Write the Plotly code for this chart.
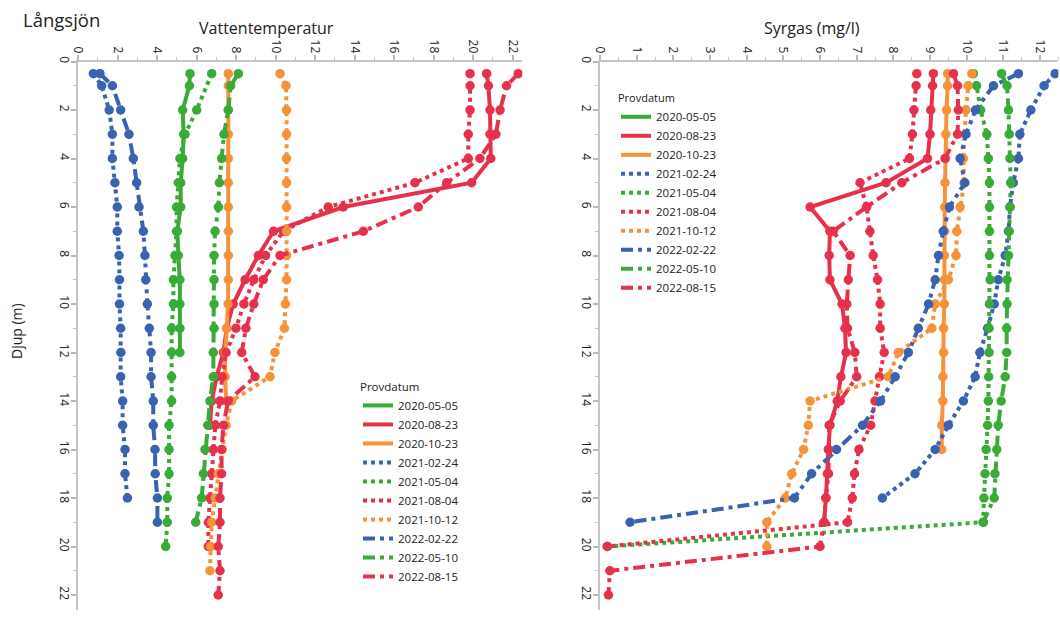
import plotly.graph_objects as go

# ---------------- data ----------------
dates = ["2020-05-05", "2020-08-23", "2020-10-23", "2021-02-24", "2021-05-04",
         "2021-08-04", "2021-10-12", "2022-02-22", "2022-05-10", "2022-08-15"]

GREEN = "#3aaa38"
RED = "#e5324a"
ORANGE = "#f5923a"
BLUE = "#3a62b0"
colors = [GREEN, RED, ORANGE, BLUE, GREEN, RED, ORANGE, BLUE, GREEN, RED]
dashes = ["solid", "solid", "solid", "dot", "dot", "dot", "dot",
          "12px,5px,4px,5px", "12px,5px,4px,5px", "12px,5px,4px,5px"]

# Water temperature (°C) by depth (m)
temp_depth = {
    "2020-05-05": [0.5, 1, 2, 3, 4, 5, 6, 7, 8, 9, 10, 11, 12],
    "2020-08-23": [0.5, 1, 2, 3, 4, 5, 6, 7, 8, 9, 10, 11, 12, 13, 14, 15],
    "2020-10-23": [0.5, 1, 2, 3, 4, 5, 6, 7, 8, 9, 10, 11, 12, 13, 14],
    "2021-02-24": [0.5, 1, 2, 3, 4, 5, 6, 7, 8, 9, 10, 11, 12, 13, 14, 15, 16, 17, 18],
    "2021-05-04": [0.5, 2, 3, 4, 5, 6, 7, 8, 9, 10, 11, 12, 13, 14, 15, 16, 17, 18, 19, 20],
    "2021-08-04": [0.5, 1, 2, 3, 4, 5, 6, 7, 8, 9, 10, 11, 12, 13, 14, 15, 16, 17, 18, 19, 20],
    "2021-10-12": [0.5, 1, 2, 3, 4, 5, 6, 7, 8, 9, 10, 11, 12, 13, 14, 15, 16, 17, 18, 19, 20, 21],
    "2022-02-22": [0.5, 1, 2, 3, 4, 5, 6, 7, 8, 9, 10, 11, 12, 13, 14, 15, 16, 17, 18, 19],
    "2022-05-10": [0.5, 1, 2, 3, 4, 5, 6, 7, 8, 9, 10, 11, 12, 13, 14, 15, 16, 17, 18, 19],
    "2022-08-15": [0.5, 1, 2, 3, 4, 5, 6, 7, 8, 9, 10, 11, 12, 13, 14, 15, 16, 17, 18, 19, 20, 21, 22],
}
temp_vals = {
    "2020-05-05": [5.67, 5.64, 5.30, 5.35, 5.30, 5.20, 5.20, 5.03, 5.08, 5.16, 5.16, 5.16, 5.16],
    "2020-08-23": [20.69, 20.78, 20.86, 20.86, 20.90, 19.93, 13.43, 9.90, 9.13, 8.46, 7.86, 7.53, 7.36, 7.02, 6.77, 6.68],
    "2020-10-23": [7.61, 7.61, 7.61, 7.61, 7.61, 7.61, 7.61, 7.61, 7.61, 7.61, 7.60, 7.53, 7.45, 7.45, 7.50],
    "2021-02-24": [0.78, 1.20, 1.58, 1.74, 1.74, 1.87, 1.99, 1.99, 2.08, 2.10, 2.10, 2.16, 2.17, 2.16, 2.26, 2.26, 2.38, 2.38, 2.50],
    "2021-05-04": [6.77, 6.01, 5.42, 5.16, 5.08, 4.99, 4.99, 4.91, 4.83, 4.83, 4.74, 4.74, 4.74, 4.74, 4.61, 4.61, 4.61, 4.52, 4.52, 4.44],
    "2021-08-04": [19.85, 19.85, 19.85, 19.76, 19.76, 17.06, 12.67, 10.40, 9.50, 8.90, 8.40, 8.00, 7.50, 7.30, 7.19, 6.95, 6.85, 6.77, 6.68, 6.60, 6.60],
    "2021-10-12": [10.23, 10.53, 10.56, 10.56, 10.56, 10.56, 10.56, 10.56, 10.56, 10.56, 10.50, 10.45, 9.97, 9.72, 7.78, 7.50, 7.30, 7.10, 6.95, 6.77, 6.72, 6.68],
    "2022-02-22": [1.11, 1.74, 2.16, 2.58, 2.80, 2.97, 3.09, 3.31, 3.39, 3.43, 3.51, 3.61, 3.70, 3.70, 3.81, 3.81, 3.90, 3.91, 4.02, 4.02],
    "2022-05-10": [8.12, 7.73, 7.61, 7.39, 7.27, 7.16, 7.11, 6.94, 6.89, 6.89, 6.89, 6.89, 6.85, 6.85, 6.68, 6.57, 6.43, 6.35, 6.26, 5.96],
    "2022-08-15": [22.29, 21.70, 21.37, 21.16, 20.35, 18.67, 17.23, 14.45, 10.23, 9.38, 8.90, 8.50, 8.29, 8.96, 7.60, 7.36, 7.27, 7.27, 7.19, 7.19, 7.10, 7.19, 7.10],
}

# Dissolved oxygen (mg/l) by depth (m)
oxy_depth = {
    "2020-05-05": [],
    "2020-08-23": [0.5, 1, 2, 3, 4, 5, 6, 7, 8, 9, 10, 11, 12, 13, 14, 15, 16, 17, 18, 19],
    "2020-10-23": [0.5, 1, 2, 3, 4, 5, 6, 7, 8, 9, 10, 11, 12, 13, 14, 15, 16],
    "2021-02-24": [0.5, 1, 2, 3, 4, 5, 6, 7, 8, 9, 10, 11, 12, 13, 14, 15, 16, 17, 18],
    "2021-05-04": [0.5, 1, 2, 3, 4, 5, 6, 7, 8, 9, 10, 11, 12, 13, 14, 15, 16, 17, 18, 19, 20],
    "2021-08-04": [0.5, 1, 2, 3, 4, 5, 6, 7, 8, 9, 10, 11, 12, 13, 14, 15, 16, 17, 18, 19, 20],
    "2021-10-12": [0.5, 1, 2, 3, 4, 5, 6, 7, 8, 9, 10, 11, 12, 13, 14, 15, 16, 17, 18, 19, 20],
    "2022-02-22": [0.5, 1, 2, 3, 4, 5, 6, 7, 8, 9, 10, 11, 12, 13, 14, 15, 16, 17, 18, 19],
    "2022-05-10": [0.5, 1, 2, 3, 4, 5, 6, 7, 8, 9, 10, 11, 12, 13, 14, 15, 16, 17, 18, 19],
    "2022-08-15": [0.5, 1, 2, 3, 4, 5, 6, 7, 8, 9, 10, 11, 12, 13, 14, 15, 16, 17, 18, 19, 20, 21, 22],
}
oxy_vals = {
    "2020-05-05": [],
    "2020-08-23": [9.09, 9.07, 9.02, 9.00, 8.93, 7.80, 5.73, 6.27, 6.25, 6.27, 6.60, 6.68, 6.71, 6.57, 6.47, 6.27, 6.23, 6.20, 6.16, 6.11],
    "2020-10-23": [9.48, 9.48, 9.45, 9.43, 9.42, 9.41, 9.40, 9.40, 9.39, 9.39, 9.39, 9.37, 9.37, 9.35, 9.35, 9.32, 9.32],
    "2021-02-24": [12.41, 12.11, 11.75, 11.45, 11.41, 11.27, 11.18, 11.14, 11.05, 10.86, 10.75, 10.57, 10.36, 10.23, 9.91, 9.50, 9.14, 8.59, 7.70],
    "2021-05-04": [10.18, 10.27, 10.38, 10.55, 10.59, 10.62, 10.62, 10.62, 10.62, 10.64, 10.62, 10.61, 10.61, 10.60, 10.59, 10.57, 10.53, 10.50, 10.47, 10.45, 0.20],
    "2021-08-04": [8.64, 8.62, 8.56, 8.52, 8.44, 7.09, 7.27, 7.36, 7.45, 7.57, 7.64, 7.64, 7.75, 7.62, 7.50, 7.38, 7.06, 6.94, 6.88, 6.75, 0.20],
    "2021-10-12": [10.14, 10.04, 9.98, 9.95, 9.91, 9.93, 9.82, 9.73, 9.71, 9.50, 9.14, 9.05, 8.14, 7.86, 5.73, 5.68, 5.55, 5.23, 5.05, 4.55, 4.55],
    "2022-02-22": [11.41, 10.73, 10.24, 9.98, 9.82, 9.95, 9.53, 9.36, 9.23, 9.14, 8.96, 8.68, 8.41, 8.05, 7.65, 7.16, 6.45, 5.77, 5.30, 0.82],
    "2022-05-10": [10.95, 11.10, 11.14, 11.16, 11.18, 11.20, 11.18, 11.16, 11.14, 11.10, 11.10, 11.09, 11.09, 11.05, 10.94, 10.86, 10.82, 10.77, 10.75, 10.45],
    "2022-08-15": [9.64, 9.75, 9.77, 9.75, 9.41, 8.23, 7.27, 6.36, 6.82, 6.77, 6.73, 6.75, 6.95, 7.00, 6.55, 6.25, 6.23, 6.23, 6.16, 6.11, 6.00, 0.27, 0.23],
}

x_ticks_temp = [0, 2, 4, 6, 8, 10, 12, 14, 16, 18, 20, 22]
x_ticks_oxy = list(range(0, 13))
y_ticks = [0, 2, 4, 6, 8, 10, 12, 14, 16, 18, 20, 22]

# ---------------- figure ----------------
W, H = 1060, 617
OFF = 0  # body margin removed by post_script below
FONT = "Open Sans"


def px(v):
    return (v - OFF) / W


def py(v):
    return 1 - (v - OFF) / H


fig = go.Figure()

for i, d in enumerate(dates):
    line = dict(color=colors[i], width=4, dash=dashes[i])
    marker = dict(color=colors[i], size=9.5, line=dict(width=0))
    fig.add_trace(go.Scatter(x=temp_vals[d], y=temp_depth[d], xaxis="x", yaxis="y",
                             mode="lines+markers", name=d, line=line, marker=marker,
                             showlegend=False))
    if oxy_vals[d]:
        fig.add_trace(go.Scatter(x=oxy_vals[d], y=oxy_depth[d], xaxis="x2", yaxis="y2",
                                 mode="lines+markers", name=d, line=line, marker=marker,
                                 showlegend=False))

# legend-only entries (line samples without markers), one set per panel
for leg in ("legend", "legend2"):
    for i, d in enumerate(dates):
        fig.add_trace(go.Scatter(x=[None], y=[None], mode="lines", name=d,
                                 line=dict(color=colors[i], width=4, dash=dashes[i]),
                                 xaxis="x" if leg == "legend" else "x2",
                                 yaxis="y" if leg == "legend" else "y2",
                                 legend=leg, showlegend=True, hoverinfo="skip"))

# pixel geometry (window coordinates)
y_top, y_bot = 61.5, 610.0
px_per_m = 24.25
y_range = [(y_bot - y_top) / px_per_m, 0]
lx0, lpx = 78.0, 19.75
rx0, rpx = 600.0, 36.67
l_max, r_max = 22.5, 12.5

axis_common = dict(showgrid=False, zeroline=False, showline=True, linecolor="#c4c4c4",
                   linewidth=2, ticks="outside", ticklen=5, tickwidth=1.5,
                   tickcolor="#b8b8b8", tickangle=90, automargin=False,
                   ticklabelstandoff=-3,
                   tickfont=dict(family=FONT, size=12, color="#222"))
minor = dict(ticks="outside", ticklen=3, tickwidth=1, tickcolor="#c4c4c4")

fig.update_layout(
    width=W, height=H, margin=dict(l=0, r=0, t=0, b=0, autoexpand=False),
    paper_bgcolor="white", plot_bgcolor="white",
    font=dict(family=FONT, color="#222"),
    xaxis=dict(domain=[px(lx0), px(lx0 + lpx * l_max)], range=[0, l_max], side="top",
               anchor="y", tickvals=x_ticks_temp, minor=dict(dtick=1, **minor), **axis_common),
    yaxis=dict(domain=[py(y_bot), py(y_top)], range=y_range, anchor="x",
               tickvals=y_ticks, minor=dict(dtick=1, **minor), **axis_common),
    xaxis2=dict(domain=[px(rx0), min(1, px(rx0 + rpx * r_max))], range=[0, r_max], side="top",
                anchor="y2", tickvals=x_ticks_oxy, minor=dict(dtick=0.5, **minor), **axis_common),
    yaxis2=dict(domain=[py(y_bot), py(y_top)], range=y_range, anchor="x2",
                tickvals=y_ticks, minor=dict(dtick=1, **minor), **axis_common),
    legend=dict(x=px(358), y=py(376), xanchor="left", yanchor="top",
                title=dict(text="Provdatum", font=dict(family=FONT, size=11.5)),
                font=dict(family=FONT, size=11.5), itemwidth=30, bgcolor="rgba(0,0,0,0)",
                tracegroupgap=0),
    legend2=dict(x=px(616), y=py(88), xanchor="left", yanchor="top",
                 title=dict(text="Provdatum", font=dict(family=FONT, size=11)),
                 font=dict(family=FONT, size=11.5), itemwidth=30, bgcolor="rgba(0,0,0,0)",
                 tracegroupgap=0),
    annotations=[
        dict(text="Långsjön", x=px(21), y=py(19), xref="paper", yref="paper",
             xanchor="left", yanchor="middle", showarrow=False,
             font=dict(family=FONT, size=18.5, color="#222")),
        dict(text="Vattentemperatur", x=px(266), y=py(28), xref="paper", yref="paper",
             xanchor="center", yanchor="middle", showarrow=False,
             font=dict(family=FONT, size=16, color="#222")),
        dict(text="Syrgas (mg/l)", x=px(812), y=py(28), xref="paper", yref="paper",
             xanchor="center", yanchor="middle", showarrow=False,
             font=dict(family=FONT, size=16, color="#222")),
        dict(text="Djup (m)", x=px(16), y=py(331), xref="paper", yref="paper",
             xanchor="center", yanchor="middle", showarrow=False, textangle=-90,
             font=dict(family=FONT, size=14, color="#222")),
    ],
)

fig.write_html("out.html", config={"displayModeBar": False},
               post_script="document.body.style.margin='0px';document.body.style.padding='0px';")
